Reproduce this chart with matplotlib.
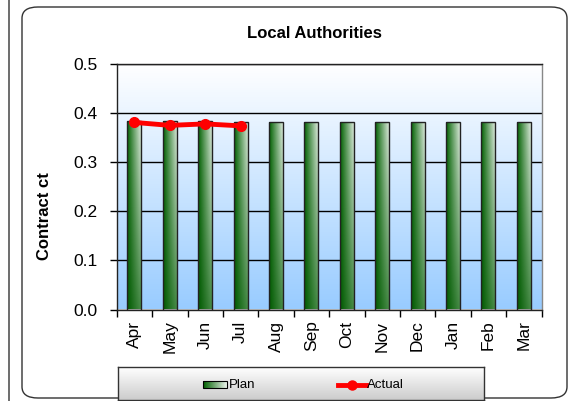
import numpy as np
import matplotlib
matplotlib.use("Agg")
import matplotlib.pyplot as plt
from matplotlib.patches import FancyBboxPatch, Rectangle

plt.rcParams['font.family'] = ['Liberation Sans', 'DejaVu Sans']

# chart data
months = ['Apr', 'May', 'Jun', 'Jul', 'Aug', 'Sep', 'Oct', 'Nov', 'Dec', 'Jan', 'Feb', 'Mar']
plan = [0.383, 0.383, 0.383, 0.381, 0.381, 0.381, 0.381, 0.381, 0.381, 0.381, 0.381, 0.381]
actual = [0.381, 0.375, 0.378, 0.374]
y_ticks = [0.0, 0.1, 0.2, 0.3, 0.4, 0.5]


def bar_gradient(n=64):
    # left dark green -> right pale, fading to flat green near the bottom
    h = np.linspace(0, 1, n)[None, :, None]
    v = np.linspace(1, 0, n)[:, None, None]
    top_l = np.array([0.0, 0.38, 0.0])
    top_r = np.array([0.92, 0.95, 0.92])
    bot_l = np.array([0.0, 0.35, 0.0])
    bot_r = np.array([0.30, 0.56, 0.30])
    top = top_l + (top_r - top_l) * h
    bot = bot_l + (bot_r - bot_l) * h
    return bot + (top - bot) * v


W, H = 571, 401
fig = plt.figure(figsize=(W / 100, H / 100), dpi=100)

# outer chart frames
fig.patches.append(FancyBboxPatch((-0.3, -0.2), 0.3 + 9 / W, 1.3,
                                  boxstyle="round,pad=0,rounding_size=0.03",
                                  transform=fig.transFigure, facecolor='none',
                                  edgecolor='#333333', lw=1.0, zorder=-5))
fig.patches.append(FancyBboxPatch((22 / W, 1 - 398 / H), (567 - 22) / W, (398 - 7) / H,
                                  boxstyle="round,pad=0,rounding_size=0.028",
                                  transform=fig.transFigure, facecolor='none',
                                  edgecolor='#333333', lw=1.0, zorder=-5))

ax = fig.add_axes([116.7 / W, 1 - 309.5 / H, (541.5 - 116.7) / W, (309.5 - 64) / H])

# plot area background: white at top to light blue at bottom
bg = np.linspace(0, 1, 128)[:, None, None]
bg_img = np.array([1.0, 1.0, 1.0]) * (1 - bg) + np.array([0.6, 0.8, 1.0]) * bg
ax.imshow(bg_img, extent=[0, 1, 0, 1], transform=ax.transAxes, aspect='auto', zorder=0)

x = np.arange(len(months))

for yv in y_ticks:
    ax.axhline(yv, color='black', lw=1.0, zorder=1)

bars = ax.bar(x, plan, width=0.4, facecolor='none', edgecolor='#222222', lw=1.0, zorder=3)
grad = bar_gradient()
for b in bars:
    im = ax.imshow(grad, extent=[b.get_x(), b.get_x() + b.get_width(), 0, b.get_height()],
                   aspect='auto', zorder=2, interpolation='bilinear')
    im.set_clip_path(b)

ax.plot(x[:len(actual)], actual, color='#ff0000', lw=3.5, marker='o', ms=7, zorder=4,
        solid_capstyle='round')

ax.set_xlim(-0.5, len(months) - 0.5)
ax.set_ylim(0, 0.5)

ax.set_yticks(y_ticks)
ax.set_yticklabels([f'{v:.1f}' for v in y_ticks], fontsize=12.5)
ax.tick_params(axis='y', direction='out', length=5, width=1, pad=9)
ax.set_xticks(x)
ax.set_xticklabels(months, rotation=90, fontsize=12.5)
ax.set_xticks(np.arange(len(months) + 1) - 0.5, minor=True)
ax.tick_params(axis='x', which='major', length=0, pad=8)
ax.tick_params(axis='x', which='minor', direction='out', length=5, width=1)
for s in ax.spines.values():
    s.set_color('#222222')
    s.set_linewidth(1.0)
ax.spines['right'].set_color('#888888')

fig.text(314 / W, 1 - 34 / H, 'Local Authorities', ha='center', va='center',
         fontsize=12, fontweight='bold')
fig.text(45 / W, 1 - 216 / H, 'Contract ct', ha='center', va='center',
         rotation=90, fontsize=12, fontweight='bold')

# legend box with grey gradient
lax = fig.add_axes([118 / W, 1 - 400 / H, (484 - 118) / W, (400 - 367) / H])
lg = np.linspace(0, 1, 64)[:, None, None]
lg_img = np.array([1.0, 1.0, 1.0]) * (1 - lg) + np.array([0.80, 0.80, 0.80]) * lg
lax.imshow(lg_img, extent=[0, 1, 0, 1], aspect='auto', zorder=0)
lax.set_xlim(0, 1)
lax.set_ylim(0, 1)
lax.set_xticks([])
lax.set_yticks([])
for s in lax.spines.values():
    s.set_color('#333333')
    s.set_linewidth(1.0)

ly = 0.46
hg = np.linspace(0, 1, 32)[None, :, None]
leg_grad = np.array([0.0, 0.38, 0.0]) * (1 - hg) + np.array([0.95, 0.97, 0.95]) * hg
lax.imshow(leg_grad, extent=[0.231, 0.297, ly - 0.106, ly + 0.106], aspect='auto', zorder=1)
lax.add_patch(Rectangle((0.231, ly - 0.106), 0.066, 0.212, facecolor='none', edgecolor='black',
                        lw=0.8, zorder=2))
lax.text(0.303, ly, 'Plan', ha='left', va='center', fontsize=9.5)
lax.plot([0.60, 0.677], [ly, ly], color='#ff0000', lw=3.5, zorder=2)
lax.plot([0.64], [ly], color='#ff0000', marker='o', ms=6.5, zorder=3)
lax.text(0.679, ly, 'Actual', ha='left', va='center', fontsize=9.5)

fig.savefig('out.png', dpi=100)
